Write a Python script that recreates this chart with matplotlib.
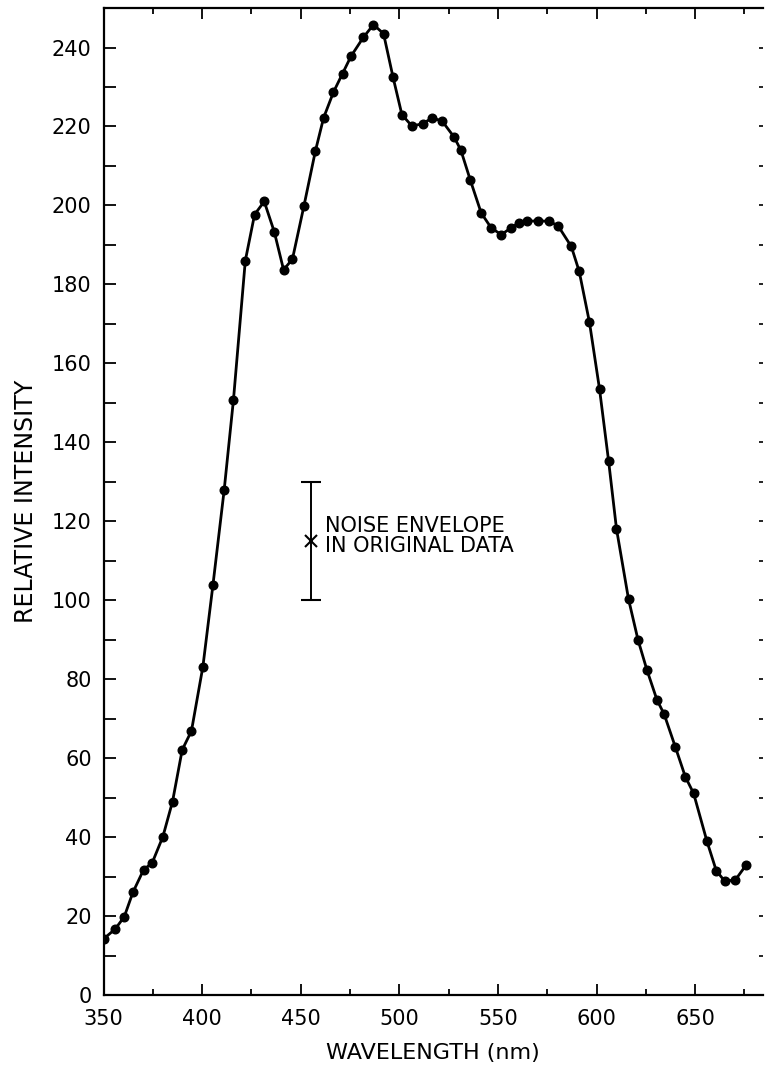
import matplotlib

matplotlib.use("Agg")
from matplotlib import pyplot as plt
from matplotlib.ticker import MultipleLocator

# (nm, relative intensity)
wavelength = [
    350.0, 355.9, 360.5, 364.9, 370.3, 374.7, 380.1, 385.0, 389.9, 394.6,
    400.4, 405.5, 411.2, 415.9, 421.9, 426.6, 431.5, 436.6, 441.3, 445.8,
    451.6, 457.4, 461.6, 466.6, 471.2, 475.5, 481.8, 486.9, 492.0, 496.8,
    501.3, 506.4, 511.8, 516.8, 521.8, 527.8, 531.2, 536.0, 541.5, 546.6,
    551.7, 556.6, 560.5, 564.7, 570.1, 575.7, 580.4, 587.2, 591.2, 596.4,
    601.5, 606.1, 610.1, 616.2, 621.0, 625.5, 630.6, 634.3, 639.9, 645.0,
    649.2, 656.0, 660.7, 664.9, 670.3, 675.8,
]
intensity = [
    14.2, 16.7, 19.8, 26.0, 31.7, 33.5, 40.1, 49.0, 62.1, 66.9,
    83.2, 103.9, 128.0, 150.8, 186.0, 197.7, 201.0, 193.3, 183.7, 186.4,
    199.8, 213.7, 222.2, 228.7, 233.4, 237.8, 242.6, 245.8, 243.5, 232.5,
    223.0, 220.1, 220.7, 222.2, 221.3, 217.3, 214.0, 206.4, 198.1, 194.3,
    192.6, 194.3, 195.6, 196.0, 196.1, 196.0, 194.9, 189.6, 183.3, 170.4,
    153.5, 135.3, 118.1, 100.3, 90.0, 82.4, 74.8, 71.1, 62.9, 55.3,
    51.1, 38.9, 31.5, 28.9, 29.1, 32.9,
]

# noise envelope marker
noise_x = 455.3
noise_center = 115
noise_halfwidth = 15
noise_text = "NOISE ENVELOPE\nIN ORIGINAL DATA"

plt.rcParams["font.family"] = ["DejaVu Sans"]

fig = plt.figure(figsize=(7.65, 10.72), dpi=100)
ax = fig.add_axes([0.1353, 0.0718, 0.8621, 0.9207])

ax.plot(wavelength, intensity, color="black", lw=2.0, marker="o", ms=6.2,
        solid_joinstyle="round", zorder=3)

ax.errorbar([noise_x], [noise_center], yerr=[noise_halfwidth], fmt="x",
            color="black", ms=8, mew=1.5, elinewidth=1.4, capsize=7.5,
            capthick=1.4)
ax.text(462.4, 116.3, noise_text, fontsize=15, va="center", ha="left",
        linespacing=1.0)

ax.set_xlim(350, 684.4)
ax.set_ylim(0, 250)

ax.xaxis.set_major_locator(MultipleLocator(50))
ax.xaxis.set_minor_locator(MultipleLocator(25))
ax.yaxis.set_major_locator(MultipleLocator(20))
ax.yaxis.set_minor_locator(MultipleLocator(10))

for side in ("left", "bottom", "top"):
    ax.spines[side].set_linewidth(1.6)
ax.spines["right"].set_visible(False)

ax.tick_params(axis="x", which="both", direction="in", top=True,
               labelsize=15, pad=10, width=1.3)
ax.tick_params(axis="x", which="major", length=8)
ax.tick_params(axis="x", which="minor", length=4.5)
ax.tick_params(axis="y", which="both", direction="in", left=True,
               labelsize=15, pad=8.5, width=1.3, length=8.5)

# short ticks along the (cropped) right edge
ax_right = ax.secondary_yaxis("right")
ax_right.yaxis.set_major_locator(MultipleLocator(10))
ax_right.tick_params(direction="in", length=3, width=1.2, labelright=False)
ax_right.spines["right"].set_visible(False)

ax.set_xlabel("WAVELENGTH (nm)", fontsize=16, labelpad=10)
ax.set_ylabel("RELATIVE INTENSITY", fontsize=17, labelpad=10)

fig.savefig("out.png", dpi=100)
plt.close(fig)
